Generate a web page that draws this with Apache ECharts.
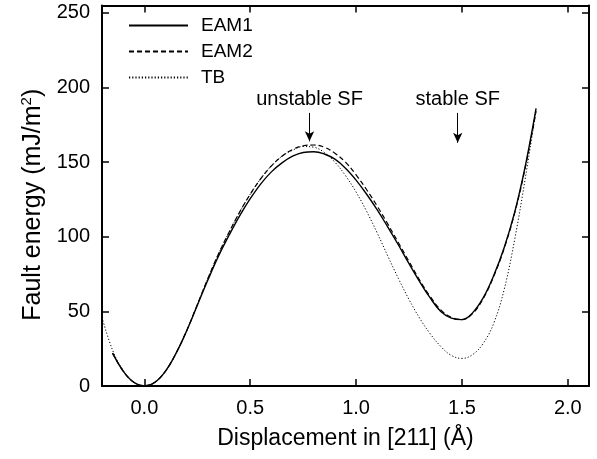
<!DOCTYPE html>
<html>
<head>
<meta charset="utf-8">
<script src="https://cdn.jsdelivr.net/npm/echarts@6/dist/echarts.min.js"></script>
<style>html,body{margin:0;padding:0;background:#fff;}#c{width:597px;height:459px;}</style>
</head>
<body>
<div id="c"></div>
<script>
// ---- data ----
var xEAM = [-0.15,-0.10,-0.05,0.00,0.05,0.10,0.15,0.20,0.25,0.30,0.35,0.40,0.45,0.50,0.55,0.60,0.65,0.70,0.75,0.80,0.85,0.90,0.95,1.00,1.05,1.10,1.15,1.20,1.25,1.30,1.35,1.40,1.45,1.50,1.55,1.60,1.65,1.70,1.75,1.80,1.85];
var eam1 = [22,10,2.5,0,2.5,10,22,37,54,71,87,101,114,125.5,135.5,143.5,149.5,154,156.5,157,155.5,152,146,138,128.5,118,106.5,94.5,82,70,59,50,45.5,44.5,49,59,74,93,117,148,186];
var eam2 = [22,10,2.5,0,2.5,10,22,37,54.5,72,88.5,103,116.5,128.5,139,147.5,154,158.5,161,161.5,160,156,150,141.5,131.5,120.5,108.5,96,83.5,71,60,51,46,44.5,48.5,58.5,73.5,92.5,116.5,147,184];
var xTB = [-0.20,-0.15,-0.10,-0.05,0.00,0.05,0.10,0.15,0.20,0.25,0.30,0.35,0.40,0.45,0.50,0.55,0.60,0.65,0.70,0.75,0.80,0.85,0.90,0.95,1.00,1.05,1.10,1.15,1.20,1.25,1.30,1.35,1.40,1.45,1.50,1.55,1.60,1.65,1.70,1.75,1.80,1.85];
var tb = [46,24,10.5,2.6,0,2.5,10,22,37,54.5,72,88.5,103,116.5,128.5,139,147.5,154,158,160.5,160,156.5,150,141,130,117,102.5,87,72,58,45.5,35,26.5,20.5,18.5,21,28.5,42,65,99,140,185];
var seriesNames = ['EAM1','EAM2','TB'];
var xTicks = [0.0,0.5,1.0,1.5,2.0];
var yTicks = [0,50,100,150,200,250];
var annotations = [
  {text:'unstable SF', x:0.78, yFrom:183, yTo:164},
  {text:'stable SF', x:1.48, yFrom:183, yTo:163}
];

function pairs(xs, ys){ return xs.map(function(x,i){ return [x, ys[i]]; }); }

var FONT = 'Liberation Sans, Arial, Helvetica, sans-serif';
var chart = echarts.init(document.getElementById('c'), null, {renderer:'canvas'});

var axisLineStyle = {color:'#000', width:2};
var xBase = {
  type:'value', min:-0.2, max:2.1,
  axisLine:{show:true, onZero:false, lineStyle:axisLineStyle},
  axisTick:{show:true, inside:true, length:7, customValues:xTicks, lineStyle:{color:'#000', width:1.5}},
  splitLine:{show:false}
};
var yBase = {
  type:'value', min:0, max:255,
  axisLine:{show:true, onZero:false, lineStyle:axisLineStyle},
  axisTick:{show:true, inside:true, length:7, customValues:yTicks, lineStyle:{color:'#000', width:1.5}},
  splitLine:{show:false}
};

var markLineData = annotations.map(function(a){
  return [
    {coord:[a.x, a.yFrom], label:{show:true, position:'start', formatter:a.text, color:'#000', fontSize:20, fontFamily:FONT, distance:3}},
    {coord:[a.x, a.yTo]}
  ];
});

var option = {
  animation:false,
  backgroundColor:'#fff',
  grid:{left:102, right:8, top:5.5, bottom:73, containLabel:false},
  legend:{
    orient:'vertical', left:128, top:16, padding:0,
    itemWidth:59, itemHeight:14, itemGap:7,
    itemStyle:{color:'transparent', borderColor:'transparent', borderWidth:0, opacity:0},
    textStyle:{color:'#000', fontSize:19, fontFamily:FONT, padding:[0,0,0,8]},
    data:seriesNames
  },
  xAxis:[
    Object.assign({}, xBase, {
      position:'bottom',
      axisLabel:{show:true, customValues:xTicks, margin:12, color:'#000', fontSize:20, fontFamily:FONT, formatter:function(v){return v.toFixed(1);}},
      name:'Displacement in [211] (Å)', nameLocation:'middle', nameGap:41,
      nameTextStyle:{color:'#000', fontSize:23, fontFamily:FONT}
    }),
    Object.assign({}, xBase, {position:'top', axisLabel:{show:false}})
  ],
  yAxis:[
    Object.assign({}, yBase, {
      position:'left',
      axisLabel:{show:true, customValues:yTicks, margin:12, color:'#000', fontSize:20, fontFamily:FONT},
      name:'Fault energy (mJ/m{sup|2})', nameLocation:'middle', nameGap:44,
      nameTextStyle:{color:'#000', fontSize:25, fontFamily:FONT, padding:[0,18,0,0],
        rich:{sup:{fontSize:15, fontFamily:FONT, color:'#000', padding:[0,0,13,0]}}}
    }),
    Object.assign({}, yBase, {position:'right', axisLabel:{show:false}})
  ],
  series:[
    {name:'TB', type:'line', data:pairs(xTB, tb), symbol:'none', smooth:0.4, z:2,
      lineStyle:{color:'#000', width:1, type:[1.2,2]}, itemStyle:{color:'#000'}},
    {name:'EAM2', type:'line', data:pairs(xEAM, eam2), symbol:'none', smooth:0.4, z:3,
      lineStyle:{color:'#000', width:1.2, type:[5,3]}, itemStyle:{color:'#000'}},
    {name:'EAM1', type:'line', data:pairs(xEAM, eam1), symbol:'none', smooth:0.4, z:4,
      lineStyle:{color:'#000', width:1.4, type:'solid'}, itemStyle:{color:'#000'},
      markLine:{silent:true, symbol:['none','arrow'], symbolSize:[7,10], animation:false,
        lineStyle:{color:'#000', width:1, type:'solid'},
        data:markLineData}}
  ]
};
chart.setOption(option);
</script>
</body>
</html>
